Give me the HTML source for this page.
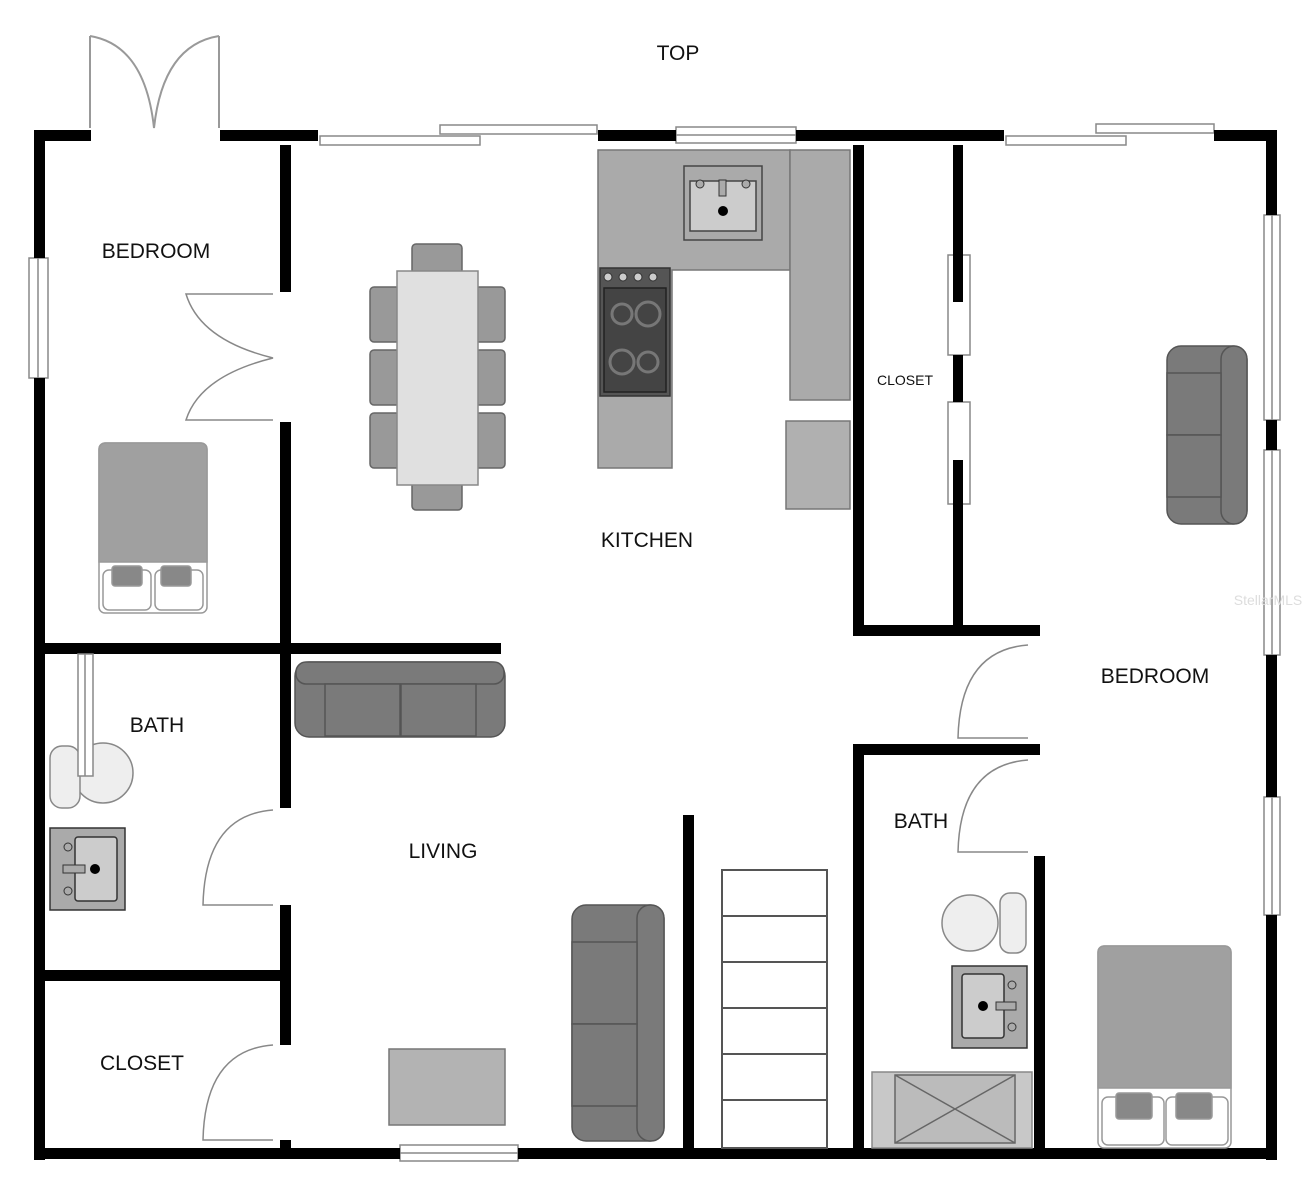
<!DOCTYPE html>
<html><head><meta charset="utf-8"><style>
html,body{margin:0;padding:0;background:#fff}
svg{display:block}
text{font-family:"Liberation Sans",Arial,sans-serif;fill:#111}
</style></head><body>
<svg width="1307" height="1200" viewBox="0 0 1307 1200" xmlns="http://www.w3.org/2000/svg">
<rect width="1307" height="1200" fill="#fff"/>
<text x="678" y="60" font-size="21" text-anchor="middle">TOP</text>

<g fill="none" stroke="#999" stroke-width="2">
<line x1="90" y1="36" x2="90" y2="128"/><line x1="219" y1="36" x2="219" y2="128"/>
<path d="M90 36 Q145 45 154 128 Q163 45 219 36"/>
</g>

<g fill="#fff" stroke="#888" stroke-width="1.5">
<rect x="440" y="125" width="157" height="9"/>
<rect x="320" y="136" width="160" height="9"/>
<rect x="676" y="127" width="120" height="16"/><line x1="676" y1="135" x2="796" y2="135"/>
<rect x="1096" y="124" width="118" height="9"/>
<rect x="1006" y="136" width="120" height="9"/>
<rect x="29" y="258" width="19" height="120"/><line x1="38" y1="258" x2="38" y2="378"/>
<rect x="1264" y="215" width="16" height="205"/><line x1="1272" y1="215" x2="1272" y2="420"/>
<rect x="1264" y="450" width="16" height="205"/><line x1="1272" y1="450" x2="1272" y2="655"/>
<rect x="1264" y="797" width="16" height="118"/><line x1="1272" y1="797" x2="1272" y2="915"/>
<rect x="400" y="1145" width="118" height="16"/><line x1="400" y1="1153" x2="518" y2="1153"/>
<rect x="948" y="255" width="22" height="100"/>
<rect x="948" y="402" width="22" height="102"/>
</g>

<g fill="#000">
<rect x="34" y="130" width="57" height="11"/>
<rect x="220" y="130" width="98" height="11"/>
<rect x="598" y="130" width="78" height="11"/>
<rect x="796" y="130" width="208" height="11"/>
<rect x="1214" y="130" width="62" height="11"/>
<rect x="34" y="130" width="11" height="128"/>
<rect x="34" y="378" width="11" height="782"/>
<rect x="1266" y="130" width="11" height="85"/>
<rect x="1266" y="420" width="11" height="30"/>
<rect x="1266" y="655" width="11" height="142"/>
<rect x="1266" y="915" width="11" height="245"/>
<rect x="34" y="1148" width="366" height="11"/>
<rect x="518" y="1148" width="759" height="11"/>
<rect x="280" y="145" width="11" height="147"/>
<rect x="280" y="422" width="11" height="386"/>
<rect x="280" y="905" width="11" height="140"/>
<rect x="280" y="1140" width="11" height="10"/>
<rect x="34" y="643" width="467" height="11"/>
<rect x="34" y="970" width="250" height="11"/>
<rect x="853" y="145" width="11" height="490"/>
<rect x="953" y="145" width="10" height="110"/>
<rect x="953" y="255" width="10" height="47"/>
<rect x="953" y="355" width="10" height="47"/>
<rect x="953" y="460" width="10" height="170"/>
<rect x="853" y="625" width="187" height="11"/>
<rect x="853" y="744" width="187" height="11"/>
<rect x="853" y="744" width="11" height="406"/>
<rect x="1034" y="856" width="11" height="294"/>
<rect x="683" y="815" width="11" height="335"/>
</g>

<g fill="none" stroke="#888" stroke-width="1.5">
<path d="M273 294 H186 Q200 340 273 358 Q200 376 186 420 H273"/>
<path d="M273 810 Q205 815 203 905 H273"/>
<path d="M273 1045 Q205 1050 203 1140 H273"/>
<path d="M1028 645 Q960 650 958 738 H1028"/>
<path d="M1028 760 Q960 765 958 852 H1028"/>
</g>

<g fill="#fff" stroke="#555" stroke-width="2">
<rect x="722" y="870" width="105" height="278"/>
<line x1="722" y1="916" x2="827" y2="916"/><line x1="722" y1="962" x2="827" y2="962"/>
<line x1="722" y1="1008" x2="827" y2="1008"/><line x1="722" y1="1054" x2="827" y2="1054"/>
<line x1="722" y1="1100" x2="827" y2="1100"/>
</g>

<g stroke="#777" stroke-width="1.5">
<path d="M598 150 H790 V270 H672 V468 H598 Z" fill="#aaa"/>
<rect x="790" y="150" width="60" height="250" fill="#aaa"/>
<rect x="786" y="421" width="64" height="88" fill="#b0b0b0"/>
<rect x="684" y="166" width="78" height="74" fill="#aaa" stroke="#444"/>
<rect x="690" y="181" width="66" height="50" fill="#ccc" stroke="#444"/>
<rect x="600" y="268" width="70" height="128" fill="#555" stroke="#333"/>
<rect x="604" y="288" width="62" height="104" fill="#444" stroke="#222"/>
</g>
<g fill="#ccc" stroke="#333" stroke-width="1"><circle cx="608" cy="277" r="4"/><circle cx="623" cy="277" r="4"/><circle cx="638" cy="277" r="4"/><circle cx="653" cy="277" r="4"/></g>
<g fill="none" stroke="#777" stroke-width="3"><circle cx="622" cy="314" r="10"/><circle cx="648" cy="314" r="12"/><circle cx="622" cy="362" r="12"/><circle cx="648" cy="362" r="10"/></g>
<circle cx="723" cy="211" r="5" fill="#000"/><rect x="719" y="180" width="7" height="16" fill="#aaa" stroke="#333"/>
<circle cx="700" cy="184" r="4" fill="#aaa" stroke="#333"/><circle cx="746" cy="184" r="4" fill="#aaa" stroke="#333"/>

<g fill="#999" stroke="#666" stroke-width="1.5">
<rect x="412" y="244" width="50" height="30" rx="4"/>
<rect x="412" y="480" width="50" height="30" rx="4"/>
<rect x="370" y="287" width="30" height="55" rx="4"/><rect x="370" y="350" width="30" height="55" rx="4"/><rect x="370" y="413" width="30" height="55" rx="4"/>
<rect x="475" y="287" width="30" height="55" rx="4"/><rect x="475" y="350" width="30" height="55" rx="4"/><rect x="475" y="413" width="30" height="55" rx="4"/>
<rect x="397" y="271" width="81" height="214" fill="#e0e0e0" stroke="#888"/>
</g>

<g stroke="#999" stroke-width="1.5">
<rect x="99" y="443" width="108" height="170" rx="6" fill="#fff"/>
<path d="M99 562 V450 Q99 443 106 443 H200 Q207 443 207 450 V562 Z" fill="#a0a0a0"/>
<rect x="103" y="570" width="48" height="40" rx="6" fill="#fff"/><rect x="155" y="570" width="48" height="40" rx="6" fill="#fff"/>
<rect x="112" y="566" width="30" height="20" rx="3" fill="#888"/><rect x="161" y="566" width="30" height="20" rx="3" fill="#888"/>
</g>

<g stroke="#888" stroke-width="1.5">
<ellipse cx="103" cy="773" rx="30" ry="30" fill="#eee"/>
<rect x="50" y="746" width="30" height="62" rx="12" fill="#eee"/>
<rect x="78" y="654" width="15" height="122" fill="#fff"/><line x1="85" y1="654" x2="85" y2="776"/>
<rect x="50" y="828" width="75" height="82" fill="#aaa" stroke="#333"/>
<rect x="75" y="837" width="42" height="64" rx="3" fill="#ccc" stroke="#333"/>
</g>
<circle cx="95" cy="869" r="5" fill="#000"/><rect x="63" y="865" width="22" height="8" fill="#aaa" stroke="#333"/>
<circle cx="68" cy="847" r="4" fill="none" stroke="#333"/><circle cx="68" cy="891" r="4" fill="none" stroke="#333"/>

<g fill="#7a7a7a" stroke="#555" stroke-width="1.5">
<rect x="295" y="662" width="210" height="75" rx="14"/>
<rect x="296" y="662" width="208" height="22" rx="10"/>
<rect x="325" y="684" width="75" height="52"/><rect x="401" y="684" width="75" height="52"/>
<rect x="572" y="905" width="92" height="236" rx="14"/>
<rect x="637" y="905" width="27" height="236" rx="13"/>
<rect x="572" y="942" width="65" height="82"/><rect x="572" y="1024" width="65" height="82"/>
<rect x="1167" y="346" width="80" height="178" rx="14"/>
<rect x="1221" y="346" width="26" height="178" rx="13"/>
<rect x="1167" y="373" width="54" height="62"/><rect x="1167" y="435" width="54" height="62"/>
</g>
<rect x="389" y="1049" width="116" height="76" fill="#b3b3b3" stroke="#777" stroke-width="1.5"/>

<g stroke="#888" stroke-width="1.5">
<ellipse cx="970" cy="923" rx="28" ry="28" fill="#eee"/>
<rect x="1000" y="893" width="26" height="60" rx="10" fill="#eee"/>
<rect x="952" y="966" width="75" height="82" fill="#aaa" stroke="#333"/>
<rect x="962" y="974" width="42" height="64" rx="3" fill="#ccc" stroke="#333"/>
<rect x="872" y="1072" width="160" height="76" fill="#c8c8c8" stroke="#888"/>
<rect x="895" y="1075" width="120" height="68" fill="#bbb" stroke="#666"/>
<line x1="895" y1="1075" x2="1015" y2="1143" stroke="#666"/><line x1="1015" y1="1075" x2="895" y2="1143" stroke="#666"/>
</g>
<circle cx="983" cy="1006" r="5" fill="#000"/><rect x="996" y="1002" width="20" height="8" fill="#aaa" stroke="#333"/>
<circle cx="1012" cy="985" r="4" fill="none" stroke="#333"/><circle cx="1012" cy="1027" r="4" fill="none" stroke="#333"/>

<g stroke="#999" stroke-width="1.5">
<rect x="1098" y="946" width="133" height="202" rx="6" fill="#fff"/>
<path d="M1098 1088 V953 Q1098 946 1105 946 H1224 Q1231 946 1231 953 V1088 Z" fill="#a0a0a0"/>
<rect x="1102" y="1097" width="62" height="48" rx="6" fill="#fff"/><rect x="1166" y="1097" width="62" height="48" rx="6" fill="#fff"/>
<rect x="1116" y="1093" width="36" height="26" rx="3" fill="#888"/><rect x="1176" y="1093" width="36" height="26" rx="3" fill="#888"/>
</g>

<text x="156" y="258" font-size="21" text-anchor="middle">BEDROOM</text>
<text x="647" y="547" font-size="21" text-anchor="middle">KITCHEN</text>
<text x="905" y="385" font-size="14" text-anchor="middle">CLOSET</text>
<text x="1155" y="683" font-size="21" text-anchor="middle">BEDROOM</text>
<text x="157" y="732" font-size="21" text-anchor="middle">BATH</text>
<text x="443" y="858" font-size="21" text-anchor="middle">LIVING</text>
<text x="921" y="828" font-size="21" text-anchor="middle">BATH</text>
<text x="142" y="1070" font-size="21" text-anchor="middle">CLOSET</text>
<text x="1268" y="605" font-size="14" text-anchor="middle" style="fill:#ddd">StellarMLS</text>
</svg>
</body></html>
